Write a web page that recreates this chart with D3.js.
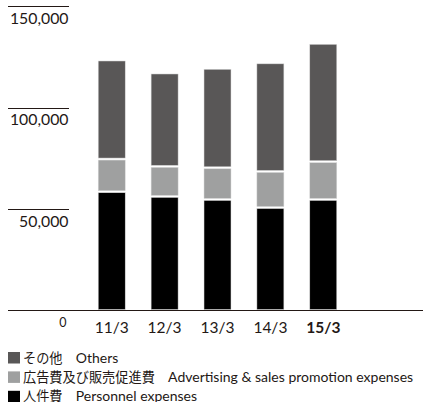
<!DOCTYPE html>
<html>
<head>
<meta charset="utf-8">
<script src="https://cdn.jsdelivr.net/npm/d3@7"></script>
<style>
  body { margin: 0; background: #fff; }
  svg text { font-family: Lato, "Noto Sans CJK JP", sans-serif; fill: #231815; }
</style>
</head>
<body>
<svg id="chart" width="423" height="402"></svg>
<script>
'use strict';

const years = ['11/3', '12/3', '13/3', '14/3', '15/3'];
const personnel = [58500, 56200, 54700, 50700, 54700];
const advertising = [16100, 14800, 15600, 17800, 18600];
const others = [48800, 46000, 49000, 53500, 58300];

const yTicks = [50000, 100000, 150000];
const seriesKeys = ['personnel', 'advertising', 'others'];
const colors = {personnel: '#000000', advertising: '#9fa0a0', others: '#595757'};
const legendItems = [
  {key: 'others', jp: 'その他', en: 'Others'},
  {key: 'advertising', jp: '広告費及び販売促進費', en: 'Advertising & sales promotion expenses'},
  {key: 'personnel', jp: '人件費', en: 'Personnel expenses'}
];

const svg = d3.select('#chart');

const rows = years.map((y, i) => ({
  year: y,
  personnel: personnel[i],
  advertising: advertising[i],
  others: others[i]
}));

const stacked = d3.stack().keys(seriesKeys)(rows);

const y = d3.scaleLinear()
  .domain([0, 150000])
  .range([310.5, 6]);

const x = d3.scaleBand()
  .domain(years)
  .range([85, 350])
  .paddingInner(0.49)
  .paddingOuter(0.25);

// y gridline stubs + labels
const ticks = svg.append('g');

ticks.selectAll('line')
  .data(yTicks)
  .enter()
  .append('line')
    .attr('x1', 8)
    .attr('x2', 69)
    .attr('y1', d => Math.round(y(d)) + 0.5)
    .attr('y2', d => Math.round(y(d)) + 0.5)
    .attr('stroke', '#231815')
    .attr('stroke-width', 1.2);

ticks.selectAll('text')
  .data(yTicks)
  .enter()
  .append('text')
    .attr('x', 68.5)
    .attr('y', d => y(d) + 17.8)
    .attr('text-anchor', 'end')
    .style('font-size', '15.8px')
    .text(d => d3.format(',')(d));

svg.append('text')
  .attr('x', 66.5)
  .attr('y', 327.3)
  .attr('text-anchor', 'end')
  .style('font-size', '12.5px')
  .text('0');

// bars
svg.append('g')
  .selectAll('g')
  .data(stacked)
  .enter()
  .append('g')
    .attr('fill', d => colors[d.key])
    .selectAll('rect')
    .data(d => d)
    .enter()
    .append('rect')
      .attr('x', d => x(d.data.year))
      .attr('width', x.bandwidth())
      .attr('y', d => y(d[1]) + 1)
      .attr('height', d => Math.max(0, y(d[0]) - y(d[1]) - 2))
      .attr('stroke', '#d8d8d8')
      .attr('stroke-width', 0.5);

// baseline
svg.append('line')
  .attr('x1', 8)
  .attr('x2', 423)
  .attr('y1', 310.5)
  .attr('y2', 310.5)
  .attr('stroke', '#231815')
  .attr('stroke-width', 1.2);

// x labels
svg.append('g')
  .selectAll('text')
  .data(years)
  .enter()
  .append('text')
    .attr('x', d => x(d) + x.bandwidth() / 2)
    .attr('y', 333.3)
    .attr('text-anchor', 'middle')
    .style('font-size', '15.5px')
    .style('font-weight', (d, i) => i === years.length - 1 ? 'bold' : 'normal')
    .text(d => d);

// legend
const legend = svg.append('g')
  .selectAll('g')
  .data(legendItems)
  .enter()
  .append('g')
    .attr('transform', (d, i) => 'translate(8,' + (352 + i * 19.4) + ')');

legend.append('rect')
  .attr('width', 12)
  .attr('height', 11.5)
  .attr('fill', d => colors[d.key]);

const legendText = legend.append('text')
  .attr('x', 15)
  .attr('y', 10.5)
  .style('font-size', '13.2px');

legendText.append('tspan')
  .text(d => d.jp + '\u3000');

legendText.append('tspan')
  .style('font-size', '14px')
  .text(d => d.en);
</script>
</body>
</html>
